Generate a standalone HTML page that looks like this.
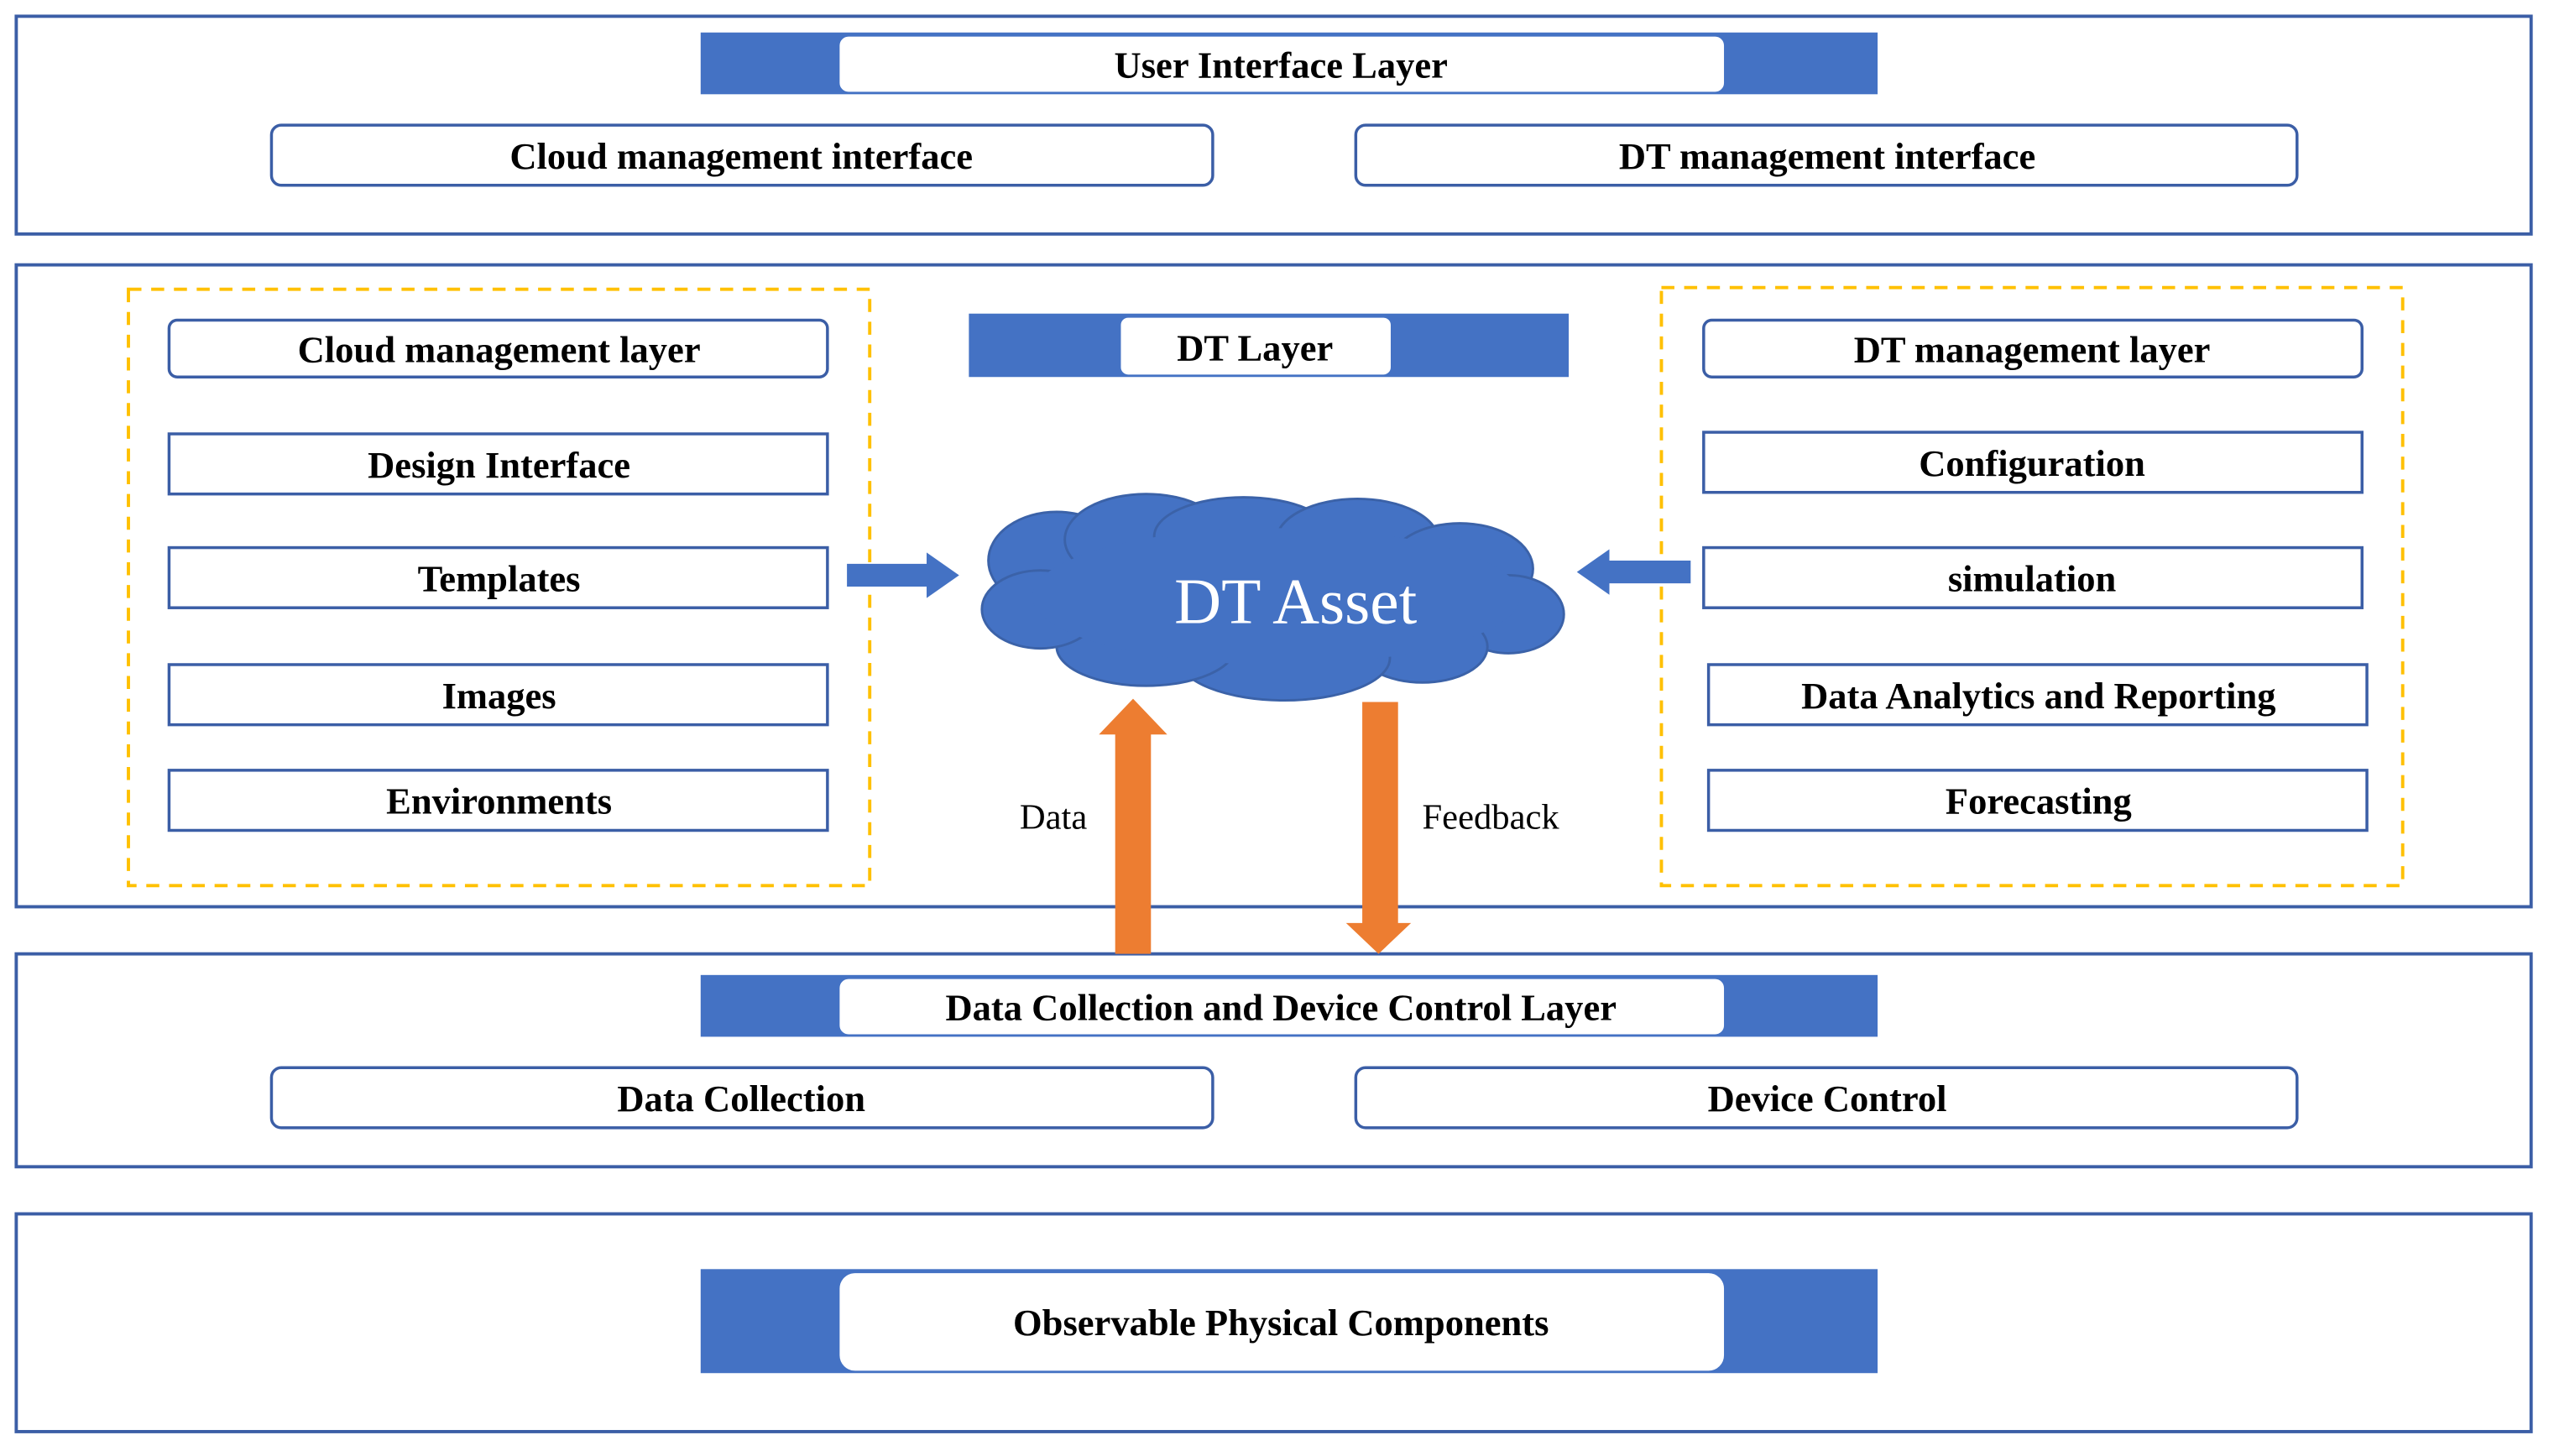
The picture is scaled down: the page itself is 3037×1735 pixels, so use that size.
<!DOCTYPE html>
<html><head><meta charset="utf-8"><style>
html,body{margin:0;padding:0;background:#fff;}
svg{display:block;}
text{font-family:"Liberation Serif","Times New Roman",serif;}
.b{font-weight:bold;font-size:23px;fill:#000;text-anchor:middle;dominant-baseline:central;}
.n{font-size:22px;fill:#000;text-anchor:middle;dominant-baseline:central;}
</style></head><body>
<svg width="3037" height="1735" viewBox="0 0 1568 896" preserveAspectRatio="none" xmlns="http://www.w3.org/2000/svg" font-family="Liberation Serif, serif">
<g fill="none" stroke="#3B5EA6" stroke-width="2">
<rect x="10" y="10" width="1547" height="134"/>
<rect x="10" y="163" width="1547" height="395"/>
<rect x="10" y="587" width="1547" height="131"/>
<rect x="10" y="747" width="1547" height="134"/>
</g>
<rect x="431" y="20" width="724" height="38" fill="#4472C4"/>
<rect x="516" y="22" width="545" height="35" rx="6" fill="#fff" stroke="#4472C4"/>
<text class="b" x="788" y="40">User Interface Layer</text>
<g fill="#fff" stroke="#3B5EA6" stroke-width="1.8">
<rect x="167" y="77" width="579" height="37" rx="6"/>
<rect x="834" y="77" width="579" height="37" rx="6"/>
</g>
<text class="b" x="456" y="96">Cloud management interface</text>
<text class="b" x="1124" y="96">DT management interface</text>
<g fill="none" stroke="#FFC000" stroke-width="2" stroke-dasharray="8,6">
<rect x="79" y="178" width="456" height="367"/>
<rect x="1022" y="177" width="456" height="368"/>
</g>
<g fill="#fff" stroke="#3B5EA6" stroke-width="1.8">
<rect x="104" y="197" width="405" height="35" rx="5"/>
<rect x="104" y="267" width="405" height="37"/>
<rect x="104" y="337" width="405" height="37"/>
<rect x="104" y="409" width="405" height="37"/>
<rect x="104" y="474" width="405" height="37"/>
<rect x="1048" y="197" width="405" height="35" rx="5"/>
<rect x="1048" y="266" width="405" height="37"/>
<rect x="1048" y="337" width="405" height="37"/>
<rect x="1051" y="409" width="405" height="37"/>
<rect x="1051" y="474" width="405" height="37"/>
</g>
<text class="b" x="307" y="215">Cloud management layer</text>
<text class="b" x="307" y="286">Design Interface</text>
<text class="b" x="307" y="356">Templates</text>
<text class="b" x="307" y="428">Images</text>
<text class="b" x="307" y="493">Environments</text>
<text class="b" x="1250" y="215">DT management layer</text>
<text class="b" x="1250" y="285">Configuration</text>
<text class="b" x="1250" y="356">simulation</text>
<text class="b" x="1254" y="428">Data Analytics and Reporting</text>
<text class="b" x="1254" y="493">Forecasting</text>
<rect x="596" y="193" width="369" height="39" fill="#4472C4"/>
<rect x="689" y="195" width="167" height="36" rx="5" fill="#fff" stroke="#4472C4"/>
<text class="b" x="772" y="214">DT Layer</text>
<g fill="#4472C4" stroke="#3B62A8" stroke-width="1.5">
<ellipse cx="650" cy="345" rx="42" ry="30"/>
<ellipse cx="705" cy="332" rx="50" ry="28"/>
<ellipse cx="765" cy="330" rx="55" ry="24"/>
<ellipse cx="835" cy="333" rx="50" ry="26"/>
<ellipse cx="898" cy="350" rx="45" ry="28"/>
<ellipse cx="928" cy="378" rx="34" ry="24"/>
<ellipse cx="875" cy="398" rx="40" ry="22"/>
<ellipse cx="790" cy="405" rx="65" ry="26"/>
<ellipse cx="705" cy="398" rx="55" ry="24"/>
<ellipse cx="640" cy="375" rx="36" ry="24"/>
</g>
<ellipse cx="785" cy="367" rx="150" ry="42" fill="#4472C4"/>
<text x="797" y="370" font-size="40" fill="#fff" text-anchor="middle" dominant-baseline="central">DT Asset</text>
<polygon points="521,347 570,347 570,340 590,354 570,368 570,361 521,361" fill="#4472C4"/>
<polygon points="1040,345 990,345 990,338 970,352 990,366 990,359 1040,359" fill="#4472C4"/>
<text class="n" x="648" y="503">Data</text>
<text class="n" x="917" y="503">Feedback</text>
<rect x="431" y="600" width="724" height="38" fill="#4472C4"/>
<rect x="516" y="602" width="545" height="35" rx="6" fill="#fff" stroke="#4472C4"/>
<text class="b" x="788" y="620">Data Collection and Device Control Layer</text>
<g fill="#fff" stroke="#3B5EA6" stroke-width="1.8">
<rect x="167" y="657" width="579" height="37" rx="6"/>
<rect x="834" y="657" width="579" height="37" rx="6"/>
</g>
<text class="b" x="456" y="676">Data Collection</text>
<text class="b" x="1124" y="676">Device Control</text>
<rect x="431" y="781" width="724" height="64" fill="#4472C4"/>
<rect x="516" y="783" width="545" height="61" rx="10" fill="#fff" stroke="#4472C4"/>
<text class="b" x="788" y="814">Observable Physical Components</text>
<polygon points="686,587 686,452 676,452 697,430 718,452 708,452 708,587" fill="#ED7D31"/>
<polygon points="838,432 860,432 860,568 868,568 848,587 828,568 838,568" fill="#ED7D31"/>
</svg>
</body></html>
